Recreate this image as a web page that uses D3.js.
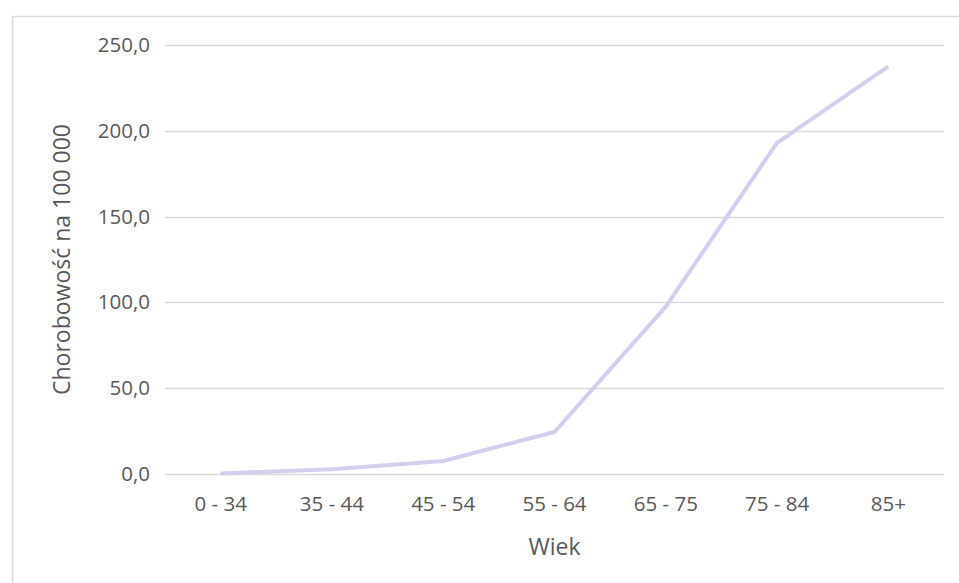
<!DOCTYPE html>
<html>
<head>
<meta charset="utf-8">
<script src="https://cdn.jsdelivr.net/npm/d3@7"></script>
<style>
  html, body { margin: 0; padding: 0; background: #fff; }
  svg { display: block; }
  text { font-family: "Open Sans", "Noto Sans", sans-serif; fill: #595959; }
</style>
</head>
<body>
<svg id="chart" width="959" height="583"></svg>
<script>
// Age groups and prevalence per 100 000
const ageGroups = ["0 - 34", "35 - 44", "45 - 54", "55 - 64", "65 - 75", "75 - 84", "85+"];
const prevalence = [0.3, 2.8, 7.6, 24.5, 97.5, 193.0, 237.5];
const yTicks = [0, 50, 100, 150, 200, 250];

const svg = d3.select("#chart");
const W = 959, H = 583;
const margin = { left: 165, right: 15, top: 45, bottom: 109 };

// Chart area frame
svg.append("rect")
  .attr("x", 12.5).attr("y", 16.5)
  .attr("width", W + 20).attr("height", H + 20)
  .attr("fill", "#fff")
  .attr("stroke", "#d9d9d9").attr("stroke-width", 1.5);

const x = d3.scaleBand().domain(ageGroups).range([margin.left, W - margin.right]);
const y = d3.scaleLinear().domain([0, 250]).range([H - margin.bottom, margin.top]);

const fmt = v => d3.format(".1f")(v).replace(".", ",");

// Horizontal gridlines
svg.append("g")
  .selectAll("line").data(yTicks).join("line")
  .attr("x1", margin.left).attr("x2", W - margin.right)
  .attr("y1", d => Math.round(y(d)) + 0.5).attr("y2", d => Math.round(y(d)) + 0.5)
  .attr("stroke", "#d9d9d9").attr("stroke-width", 1.3);

// Y axis labels
const yAxis = d3.axisLeft(y).tickValues(yTicks).tickFormat(fmt).tickSize(0).tickPadding(15);
const gy = svg.append("g").attr("transform", `translate(${margin.left},0)`).call(yAxis);
gy.select(".domain").remove();
gy.selectAll("text").style("font-size", "20.5px").attr("fill", "#595959")
  .style("font-family", "'Open Sans', sans-serif");

// X axis labels
const xAxis = d3.axisBottom(x).tickSize(0).tickPadding(22);
const gx = svg.append("g").attr("transform", `translate(0,${H - margin.bottom})`).call(xAxis);
gx.select(".domain").remove();
gx.selectAll("text").style("font-size", "20.5px").attr("fill", "#595959")
  .style("font-family", "'Open Sans', sans-serif");

// Series line
const line = d3.line()
  .x((d, i) => x(ageGroups[i]) + x.bandwidth() / 2)
  .y(d => y(d));
svg.append("path")
  .datum(prevalence)
  .attr("d", line)
  .attr("fill", "none")
  .attr("stroke", "#d0cfee")
  .attr("stroke-width", 4)
  .attr("stroke-linejoin", "round");

// Axis titles
svg.append("text")
  .attr("x", (margin.left + W - margin.right) / 2).attr("y", 555)
  .attr("text-anchor", "middle")
  .style("font-size", "23px")
  .text("Wiek");

svg.append("text")
  .attr("transform", `translate(70,${(y(0) + y(250)) / 2}) rotate(-90)`)
  .attr("text-anchor", "middle")
  .style("font-size", "23px")
  .text("Chorobowość na 100 000");
</script>
</body>
</html>
